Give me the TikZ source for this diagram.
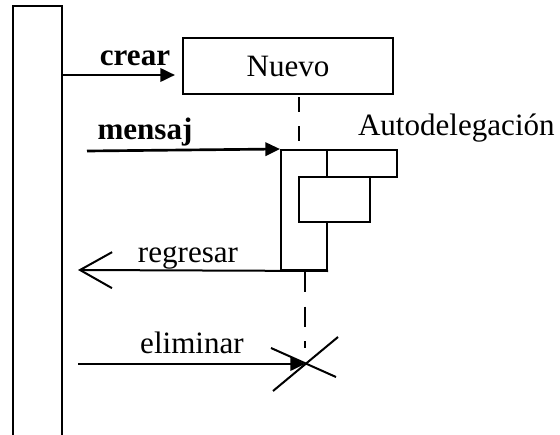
\documentclass[tikz,border=0pt]{standalone}
\usepackage{fontspec}
\setmainfont{Liberation Serif}
\usetikzlibrary{arrows.meta}

\newcommand{\lblfont}{\fontsize{23.3}{28}\selectfont}

\begin{document}
\begin{tikzpicture}[x=0.75pt,y=-0.75pt,line width=1.5pt,
  every node/.style={font=\lblfont},
  box/.style={draw,rectangle,inner sep=0pt,fill=white},
  lbl/.style={anchor=base,inner sep=0pt},
  msg/.style={-{Triangle[length=11pt,width=10pt]},line width=2pt},
  reply/.style={-{Straight Barb[length=24pt,width=27pt]},line width=1.5pt},
  life/.style={dash pattern=on 11pt off 11pt}]
  \useasboundingbox (0,0) rectangle (560,435);
  % objects
  \node[box,minimum width=36.75pt,minimum height=329.25pt] (actor) at (37.5,225.5) {};
  \node[box,minimum width=157.5pt,minimum height=42pt] (nuevo) at (288,66) {Nuevo};
  % activation and self call
  \node[box,fill=none,minimum width=34.5pt,minimum height=90pt] (act) at (304,210) {};
  \node[box,minimum width=52.5pt,minimum height=20.25pt] (selfcall) at (362,163.5) {};
  \node[box,minimum width=53.25pt,minimum height=33.75pt] (nested) at (334.5,199.5) {};
  % lifeline and end points
  \coordinate (life-top) at (299,97);
  \coordinate (life-act) at (299,150);
  \coordinate (life-ret) at (305,272);
  \coordinate (kill) at (305,364);
  \coordinate (crear-a) at (62,75);
  \coordinate (crear-b) at (175,75);
  \coordinate (mensaj-a) at (87,151);
  \coordinate (ret-b) at (78,270);
  \coordinate (elim-a) at (78,364);
  \draw[life] (life-top) -- (life-act);
  \draw[life,dash pattern=on 15pt off 11pt] (life-ret) -- (305,348);
  % messages
  \draw[msg] (crear-a) -- (crear-b);
  \draw[msg] (mensaj-a) -- (act.north west);
  \draw[reply] (act.south east) -- (ret-b);
  \draw[msg] (elim-a) -- (kill);
  \draw (271,348) -- (336,377);
  \draw (273,391) -- (338,337);
  % labels
  \node[lbl,font=\lblfont\bfseries] (crear) at (135,65) {crear};
  \node[lbl,font=\lblfont\bfseries] (mensaj) at (145,139) {mensaj};
  \node[lbl,anchor=base west] (autodel) at (357,135) {Autodelegación};
  \node[lbl] (regresar) at (188,262) {regresar};
  \node[lbl] (eliminar) at (192,353) {eliminar};
\end{tikzpicture}
\end{document}
